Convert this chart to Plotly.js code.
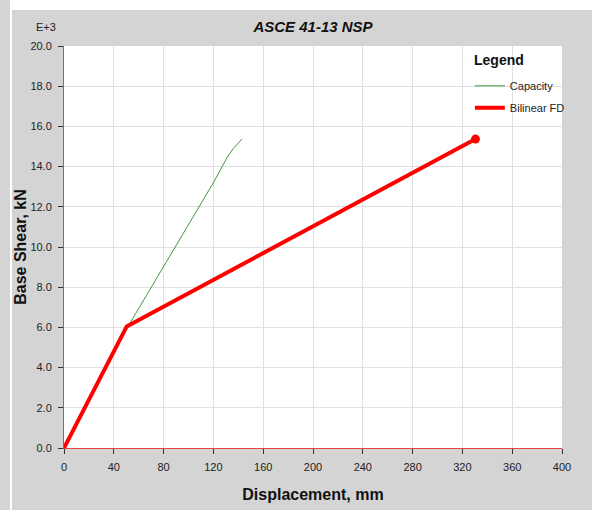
<!DOCTYPE html>
<html>
<head>
<meta charset="utf-8">
<script src="https://cdn.plot.ly/plotly-3.0.1.min.js"></script>
<style>
  html, body { margin: 0; padding: 0; background: #d4d4d4; }
  #wrap { position: relative; width: 592px; height: 510px; background: #d4d4d4; overflow: hidden; }
  #topband { position: absolute; left: 10px; top: 0; width: 582px; height: 10px; background: #ffffff; }
  #vline { position: absolute; left: 10px; top: 0; width: 2px; height: 510px; background: #ffffff; }
  #chart { position: absolute; left: 12px; top: 10px; width: 580px; height: 500px; }
</style>
</head>
<body>
<div id="wrap">
  <div id="topband"></div>
  <div id="vline"></div>
  <div id="chart"></div>
</div>
<script>
// Capacity curve (displacement mm, base shear kN x1000)
const capacityX = [0, 20, 40, 50, 60, 80, 100, 120, 131, 136, 143];
const capacityY = [0, 2.4, 4.8, 5.9, 6.95, 9.0, 11.1, 13.2, 14.45, 14.9, 15.37];
// Bilinear force-displacement
const bilinearX = [0, 50.4, 330.5];
const bilinearY = [0, 6.05, 15.37];
const seriesNames = ['Capacity', 'Bilinear FD'];
const xTicks = [0, 40, 80, 120, 160, 200, 240, 280, 320, 360, 400];
const yTicks = [0, 2, 4, 6, 8, 10, 12, 14, 16, 18, 20];

const sans = '"Liberation Sans", Arial, sans-serif';

const last = bilinearX.length - 1;
const traces = [
  {
    x: capacityX, y: capacityY, name: seriesNames[0], type: 'scatter', mode: 'lines',
    line: {color: '#3c9a3c', width: 1}, legendgroup: 'a'
  },
  {
    x: bilinearX, y: bilinearY, name: seriesNames[1], type: 'scatter', mode: 'lines',
    line: {color: '#ff0000', width: 4}, legendgroup: 'b'
  },
  {
    x: [bilinearX[last]], y: [bilinearY[last]], type: 'scatter', mode: 'markers',
    marker: {color: '#ff0000', size: 9}, showlegend: false, hoverinfo: 'skip'
  }
];

const layout = {
  width: 580, height: 500,
  paper_bgcolor: '#d4d4d4', plot_bgcolor: '#ffffff',
  margin: {l: 52, r: 30, t: 36, b: 62},
  title: {
    text: '<b><i>ASCE 41-13 NSP</i></b>',
    font: {family: sans, size: 15, color: '#111111'},
    x: 0.5, xref: 'paper', y: 1, yref: 'paper', yanchor: 'bottom', pad: {b: 14}
  },
  xaxis: {
    range: [0, 400], tickvals: xTicks, ticktext: xTicks.map(String),
    showgrid: true, gridcolor: '#e0e0e0', gridwidth: 1,
    showline: true, linecolor: '#e84040', linewidth: 1, zeroline: false,
    ticks: 'outside', ticklen: 5, tickcolor: '#333333', ticklabelstandoff: 4,
    tickfont: {family: sans, size: 11, color: '#222222'},
    title: {text: '<b>Displacement, mm</b>', font: {family: sans, size: 16, color: '#111111'}, standoff: 16}
  },
  yaxis: {
    range: [0, 20], tickvals: yTicks, ticktext: yTicks.map(v => v.toFixed(1)),
    showgrid: true, gridcolor: '#e0e0e0', gridwidth: 1,
    showline: true, linecolor: '#e84040', linewidth: 1, zeroline: false,
    ticks: 'outside', ticklen: 5, tickcolor: '#333333', ticklabelstandoff: 4,
    tickfont: {family: sans, size: 11, color: '#222222'},
    title: {text: '<b>Base Shear, kN</b>', font: {family: sans, size: 16, color: '#111111'}, standoff: 10}
  },
  legend: {
    x: 0.815, xanchor: 'left', y: 0.937, yanchor: 'top',
    bgcolor: 'rgba(0,0,0,0)', borderwidth: 0,
    font: {family: sans, size: 11, color: '#222222'},
    tracegroupgap: 3
  },
  annotations: [
    {text: 'E+3', xref: 'paper', yref: 'paper', x: -0.036, y: 1.0, xanchor: 'center', yanchor: 'bottom',
     yshift: 11, showarrow: false, font: {family: sans, size: 11, color: '#222222'}},
    {text: '<b>Legend</b>', xref: 'paper', yref: 'paper', x: 0.82, y: 0.966, xanchor: 'left', yanchor: 'middle',
     showarrow: false, font: {family: sans, size: 14, color: '#111111'}}
  ],
  showlegend: true
};

Plotly.newPlot('chart', traces, layout, {displayModeBar: false, staticPlot: true});
</script>
</body>
</html>
